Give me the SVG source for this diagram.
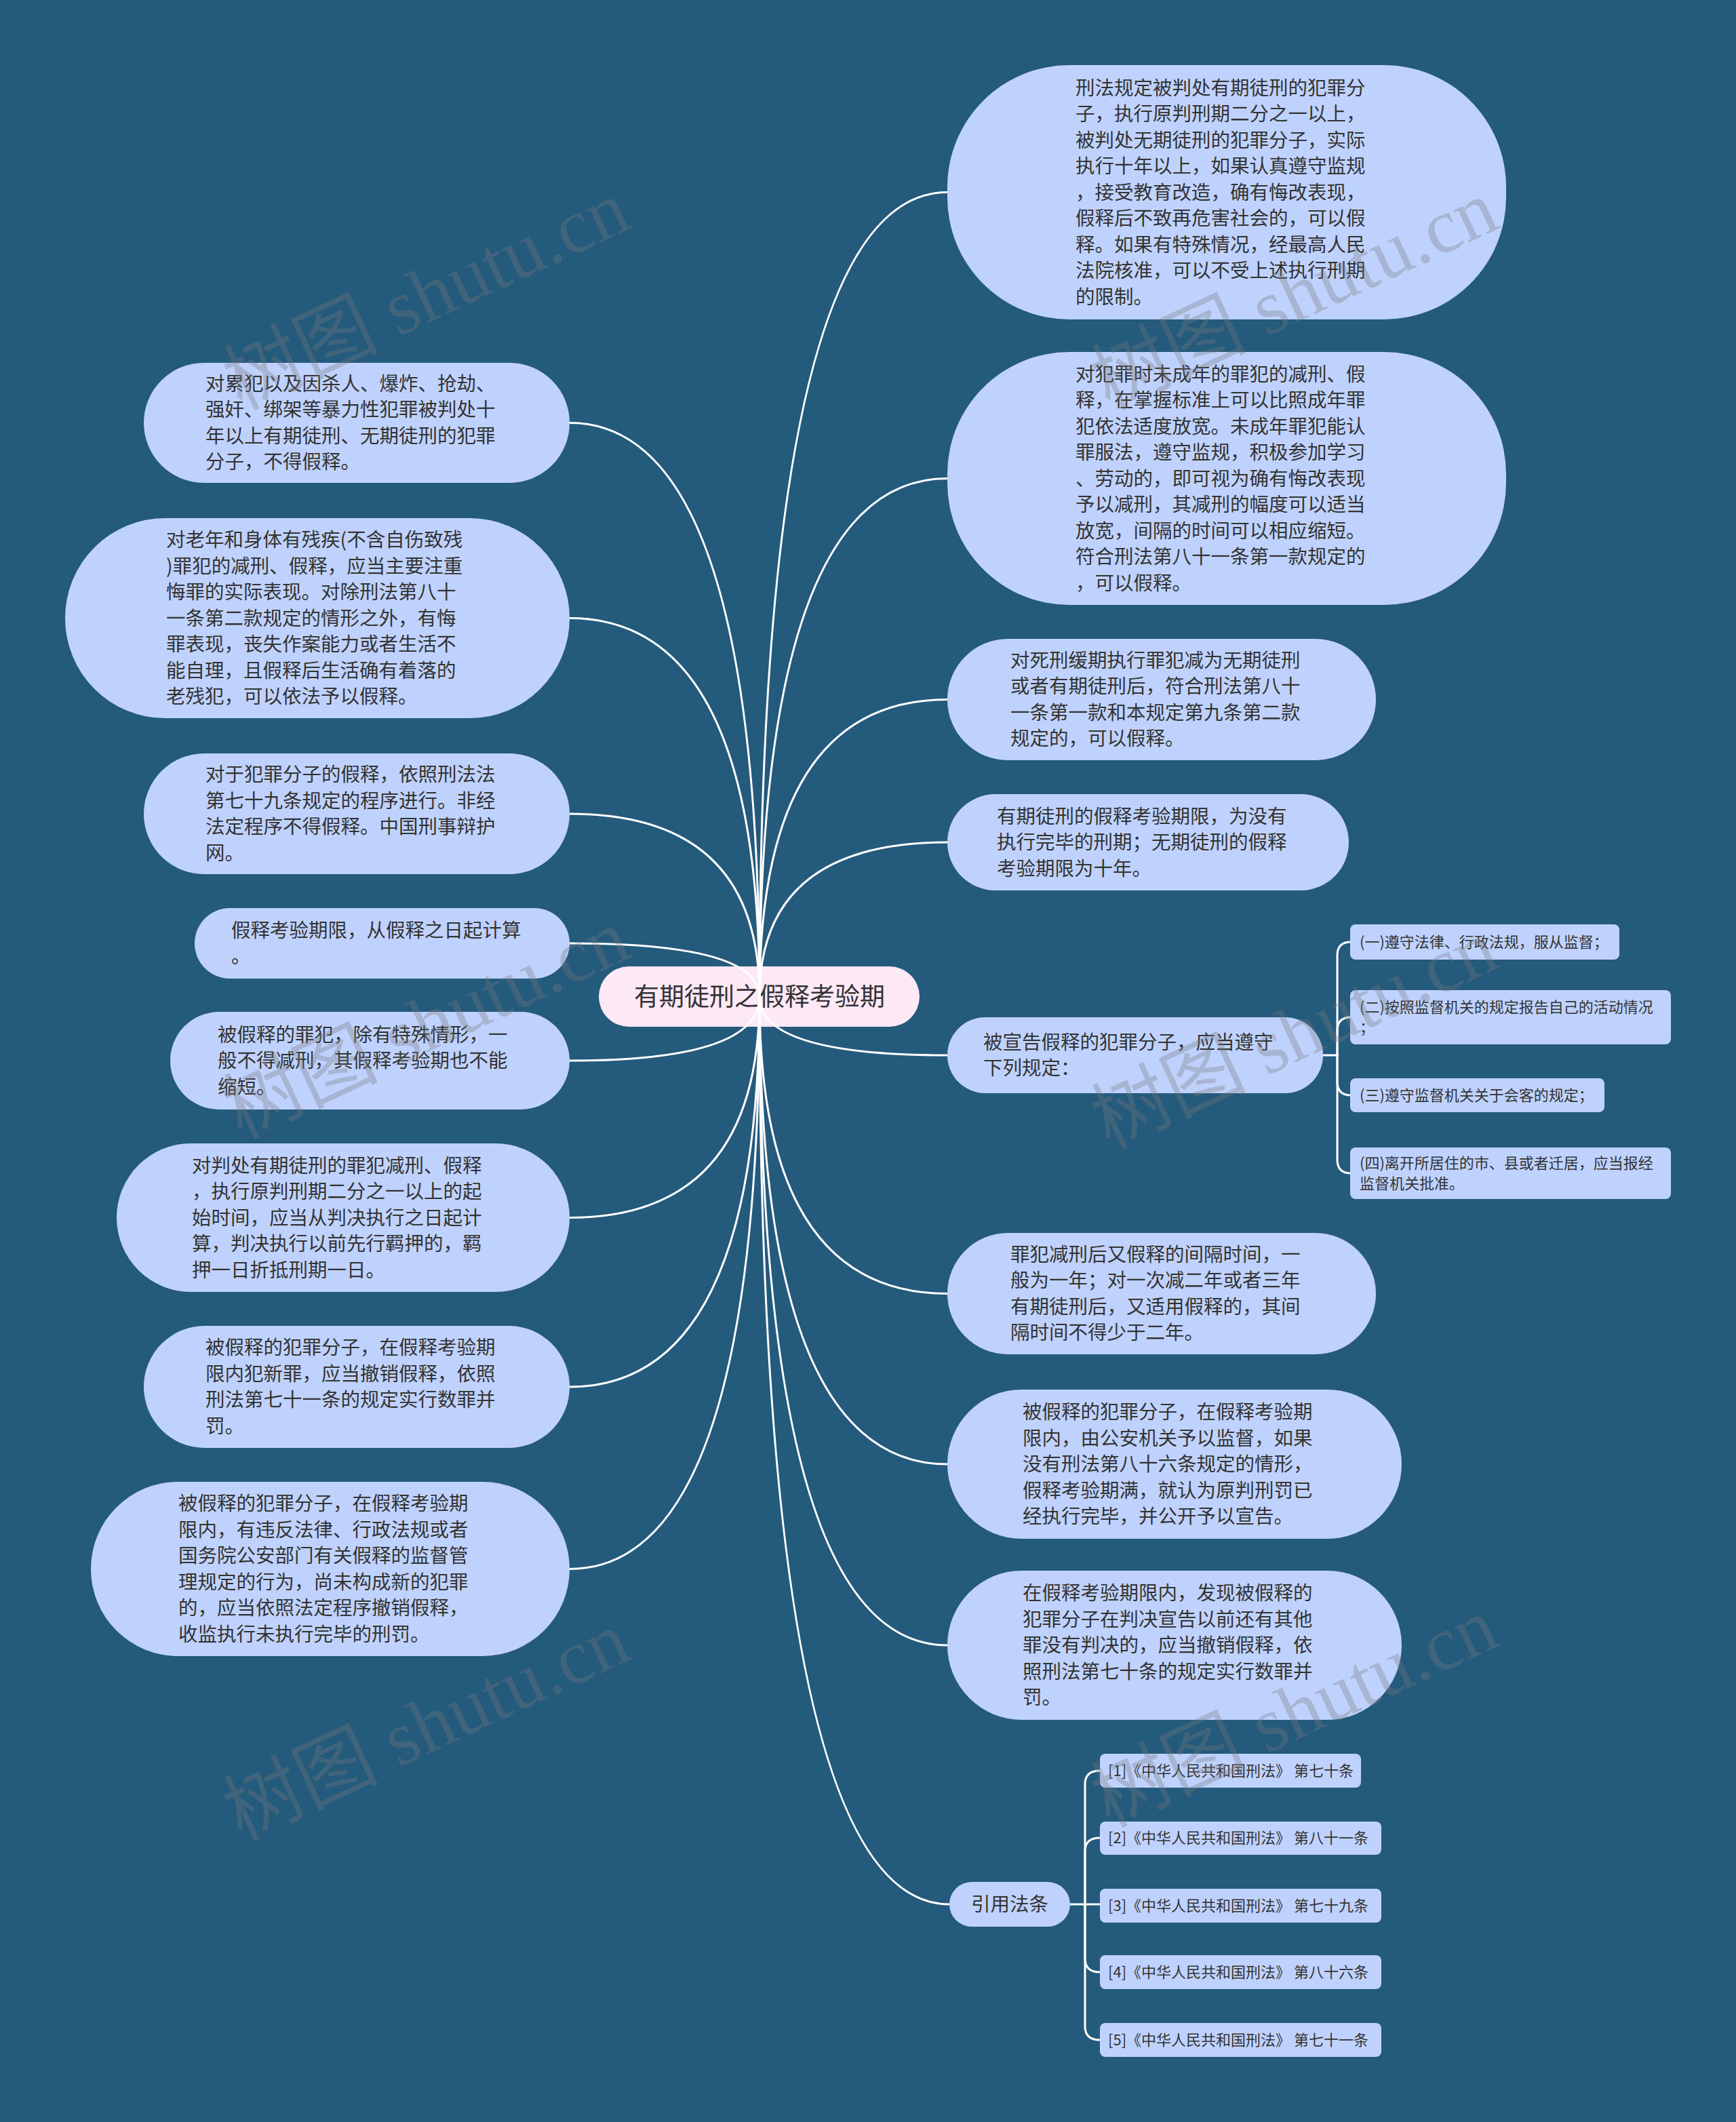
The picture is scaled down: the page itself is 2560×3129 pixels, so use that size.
<svg xmlns="http://www.w3.org/2000/svg" width="2560" height="3129" viewBox="0 0 2560 3129">
<style>
.bg{fill:#245a7c}
.node{fill:#bfd2fd}
.root{fill:#fde8f6}
.t{font-family:"Noto Sans CJK SC","Noto Sans",sans-serif;font-size:28.5px;fill:#333}
.ts{font-family:"Noto Sans CJK SC","Noto Sans",sans-serif;font-size:22px;fill:#333}
.tr{font-family:"Noto Sans CJK SC","Noto Sans",sans-serif;font-size:37px;fill:#333}
.c{fill:none;stroke:#ffffff;stroke-width:3;stroke-linecap:round}
.wm{font-family:"Liberation Serif","Noto Sans CJK SC",serif;font-size:114px;fill:#7a7a7a;fill-opacity:0.32}
</style>
<rect class="bg" x="0" y="0" width="2560" height="3129"/>
<g id="root">
<rect class="root" x="883" y="1425" width="473" height="89" rx="44.5"/>
<text class="tr" x="1120" y="1483" text-anchor="middle">有期徒刑之假释考验期</text>
</g>
<g id="connectors">
<path class="c" d="M1120 1470 Q1120 283.5 1397 283.5"/>
<path class="c" d="M1120 1470 Q1120 705.5 1397 705.5"/>
<path class="c" d="M1120 1470 Q1120 1031.5 1397 1031.5"/>
<path class="c" d="M1120 1470 Q1120 1242 1397 1242"/>
<path class="c" d="M1120 1470 Q1120 1556 1397 1556"/>
<path class="c" d="M1120 1470 Q1120 1907.5 1397 1907.5"/>
<path class="c" d="M1120 1470 Q1120 2159 1397 2159"/>
<path class="c" d="M1120 1470 Q1120 2426 1397 2426"/>
<path class="c" d="M1120 1470 Q1120 2808 1400 2808"/>
<path class="c" d="M1120 1470 Q1120 623.5 840 623.5"/>
<path class="c" d="M1120 1470 Q1120 911.5 840 911.5"/>
<path class="c" d="M1120 1470 Q1120 1200 840 1200"/>
<path class="c" d="M1120 1470 Q1120 1391 840 1391"/>
<path class="c" d="M1120 1470 Q1120 1564 840 1564"/>
<path class="c" d="M1120 1470 Q1120 1795.5 840 1795.5"/>
<path class="c" d="M1120 1470 Q1120 2045 840 2045"/>
<path class="c" d="M1120 1470 Q1120 2313.5 840 2313.5"/>
<path class="c" d="M1951 1556 L1972 1556"/>
<path class="c" d="M1972 1556 L1972 1409 Q1972 1389 1992 1389"/>
<path class="c" d="M1972 1556 L1972 1520 Q1972 1500 1992 1500"/>
<path class="c" d="M1972 1556 L1972 1595 Q1972 1615 1992 1615"/>
<path class="c" d="M1972 1556 L1972 1710 Q1972 1730 1992 1730"/>
<path class="c" d="M1578 2808 L1600 2808"/>
<path class="c" d="M1600 2808 L1600 2631 Q1600 2611 1622 2611"/>
<path class="c" d="M1600 2808 L1600 2730 Q1600 2710 1622 2710"/>
<path class="c" d="M1600 2808 L1622 2808"/>
<path class="c" d="M1600 2808 L1600 2888 Q1600 2908 1622 2908"/>
<path class="c" d="M1600 2808 L1600 2988 Q1600 3008 1622 3008"/>
</g>
<g id="r1">
<rect class="node" x="1397" y="96" width="824" height="375" rx="180"/>
<text class="t"><tspan x="1586" y="139.5">刑法规定被判处有期徒刑的犯罪分</tspan><tspan x="1586" dy="38.5">子，执行原判刑期二分之一以上，</tspan><tspan x="1586" dy="38.5">被判处无期徒刑的犯罪分子，实际</tspan><tspan x="1586" dy="38.5">执行十年以上，如果认真遵守监规</tspan><tspan x="1586" dy="38.5">，接受教育改造，确有悔改表现，</tspan><tspan x="1586" dy="38.5">假释后不致再危害社会的，可以假</tspan><tspan x="1586" dy="38.5">释。如果有特殊情况，经最高人民</tspan><tspan x="1586" dy="38.5">法院核准，可以不受上述执行刑期</tspan><tspan x="1586" dy="38.5">的限制。</tspan></text>
</g>
<g id="r2">
<rect class="node" x="1397" y="519" width="824" height="373" rx="180"/>
<text class="t"><tspan x="1586" y="561.5">对犯罪时未成年的罪犯的减刑、假</tspan><tspan x="1586" dy="38.5">释，在掌握标准上可以比照成年罪</tspan><tspan x="1586" dy="38.5">犯依法适度放宽。未成年罪犯能认</tspan><tspan x="1586" dy="38.5">罪服法，遵守监规，积极参加学习</tspan><tspan x="1586" dy="38.5">、劳动的，即可视为确有悔改表现</tspan><tspan x="1586" dy="38.5">予以减刑，其减刑的幅度可以适当</tspan><tspan x="1586" dy="38.5">放宽，间隔的时间可以相应缩短。</tspan><tspan x="1586" dy="38.5">符合刑法第八十一条第一款规定的</tspan><tspan x="1586" dy="38.5">，可以假释。</tspan></text>
</g>
<g id="r3">
<rect class="node" x="1397" y="942" width="632" height="179" rx="89.5"/>
<text class="t"><tspan x="1490" y="983.75">对死刑缓期执行罪犯减为无期徒刑</tspan><tspan x="1490" dy="38.5">或者有期徒刑后，符合刑法第八十</tspan><tspan x="1490" dy="38.5">一条第一款和本规定第九条第二款</tspan><tspan x="1490" dy="38.5">规定的，可以假释。</tspan></text>
</g>
<g id="r4">
<rect class="node" x="1397" y="1171" width="592" height="142" rx="71"/>
<text class="t"><tspan x="1470" y="1213.5">有期徒刑的假释考验期限，为没有</tspan><tspan x="1470" dy="38.5">执行完毕的刑期；无期徒刑的假释</tspan><tspan x="1470" dy="38.5">考验期限为十年。</tspan></text>
</g>
<g id="r5">
<rect class="node" x="1397" y="1500" width="554" height="112" rx="56"/>
<text class="t"><tspan x="1450" y="1546.75">被宣告假释的犯罪分子，应当遵守</tspan><tspan x="1450" dy="38.5">下列规定：</tspan></text>
</g>
<g id="r5c1">
<rect class="node" x="1991" y="1363" width="397" height="52" rx="8"/>
<text class="ts" x="2005" y="1397">(一)遵守法律、行政法规，服从监督；</text>
</g>
<g id="r5c2">
<rect class="node" x="1991" y="1460" width="473" height="80" rx="8"/>
<text class="ts"><tspan x="2005" y="1493">(二)按照监督机关的规定报告自己的活动情况</tspan><tspan x="2005" dy="30">；</tspan></text>
</g>
<g id="r5c3">
<rect class="node" x="1991" y="1590" width="375" height="50" rx="8"/>
<text class="ts" x="2005" y="1623">(三)遵守监督机关关于会客的规定；</text>
</g>
<g id="r5c4">
<rect class="node" x="1991" y="1692" width="473" height="76" rx="8"/>
<text class="ts"><tspan x="2005" y="1723">(四)离开所居住的市、县或者迁居，应当报经</tspan><tspan x="2005" dy="30">监督机关批准。</tspan></text>
</g>
<g id="r6">
<rect class="node" x="1397" y="1818" width="632" height="179" rx="89.5"/>
<text class="t"><tspan x="1490" y="1859.75">罪犯减刑后又假释的间隔时间，一</tspan><tspan x="1490" dy="38.5">般为一年；对一次减二年或者三年</tspan><tspan x="1490" dy="38.5">有期徒刑后，又适用假释的，其间</tspan><tspan x="1490" dy="38.5">隔时间不得少于二年。</tspan></text>
</g>
<g id="r7">
<rect class="node" x="1397" y="2049" width="670" height="220" rx="110"/>
<text class="t"><tspan x="1508" y="2092">被假释的犯罪分子，在假释考验期</tspan><tspan x="1508" dy="38.5">限内，由公安机关予以监督，如果</tspan><tspan x="1508" dy="38.5">没有刑法第八十六条规定的情形，</tspan><tspan x="1508" dy="38.5">假释考验期满，就认为原判刑罚已</tspan><tspan x="1508" dy="38.5">经执行完毕，并公开予以宣告。</tspan></text>
</g>
<g id="r8">
<rect class="node" x="1397" y="2316" width="670" height="220" rx="110"/>
<text class="t"><tspan x="1508" y="2359">在假释考验期限内，发现被假释的</tspan><tspan x="1508" dy="38.5">犯罪分子在判决宣告以前还有其他</tspan><tspan x="1508" dy="38.5">罪没有判决的，应当撤销假释，依</tspan><tspan x="1508" dy="38.5">照刑法第七十条的规定实行数罪并</tspan><tspan x="1508" dy="38.5">罚。</tspan></text>
</g>
<g id="r9">
<rect class="node" x="1400" y="2775" width="178" height="66" rx="33"/>
<text class="t" x="1489" y="2818" text-anchor="middle">引用法条</text>
</g>
<g id="r9c1">
<rect class="node" x="1622" y="2586" width="385" height="50" rx="8"/>
<text class="ts" x="1634" y="2619">[1]《中华人民共和国刑法》 第七十条</text>
</g>
<g id="r9c2">
<rect class="node" x="1622" y="2686" width="415" height="49" rx="8"/>
<text class="ts" x="1634" y="2718">[2]《中华人民共和国刑法》 第八十一条</text>
</g>
<g id="r9c3">
<rect class="node" x="1622" y="2785" width="415" height="50" rx="8"/>
<text class="ts" x="1634" y="2818">[3]《中华人民共和国刑法》 第七十九条</text>
</g>
<g id="r9c4">
<rect class="node" x="1622" y="2883" width="415" height="50" rx="8"/>
<text class="ts" x="1634" y="2916">[4]《中华人民共和国刑法》 第八十六条</text>
</g>
<g id="r9c5">
<rect class="node" x="1622" y="2983" width="415" height="50" rx="8"/>
<text class="ts" x="1634" y="3016">[5]《中华人民共和国刑法》 第七十一条</text>
</g>
<g id="l1">
<rect class="node" x="212" y="535" width="628" height="177" rx="88.5"/>
<text class="t"><tspan x="303" y="575.75">对累犯以及因杀人、爆炸、抢劫、</tspan><tspan x="303" dy="38.5">强奸、绑架等暴力性犯罪被判处十</tspan><tspan x="303" dy="38.5">年以上有期徒刑、无期徒刑的犯罪</tspan><tspan x="303" dy="38.5">分子，不得假释。</tspan></text>
</g>
<g id="l2">
<rect class="node" x="96" y="764" width="744" height="295" rx="147.5"/>
<text class="t"><tspan x="245" y="806">对老年和身体有残疾(不含自伤致残</tspan><tspan x="245" dy="38.5">)罪犯的减刑、假释，应当主要注重</tspan><tspan x="245" dy="38.5">悔罪的实际表现。对除刑法第八十</tspan><tspan x="245" dy="38.5">一条第二款规定的情形之外，有悔</tspan><tspan x="245" dy="38.5">罪表现，丧失作案能力或者生活不</tspan><tspan x="245" dy="38.5">能自理，且假释后生活确有着落的</tspan><tspan x="245" dy="38.5">老残犯，可以依法予以假释。</tspan></text>
</g>
<g id="l3">
<rect class="node" x="212" y="1111" width="628" height="178" rx="89"/>
<text class="t"><tspan x="303" y="1152.25">对于犯罪分子的假释，依照刑法法</tspan><tspan x="303" dy="38.5">第七十九条规定的程序进行。非经</tspan><tspan x="303" dy="38.5">法定程序不得假释。中国刑事辩护</tspan><tspan x="303" dy="38.5">网。</tspan></text>
</g>
<g id="l4">
<rect class="node" x="287" y="1339" width="553" height="104" rx="52"/>
<text class="t"><tspan x="341" y="1381.75">假释考验期限，从假释之日起计算</tspan><tspan x="341" dy="38.5">。</tspan></text>
</g>
<g id="l5">
<rect class="node" x="251" y="1492" width="589" height="144" rx="72"/>
<text class="t"><tspan x="321" y="1535.5">被假释的罪犯，除有特殊情形，一</tspan><tspan x="321" dy="38.5">般不得减刑，其假释考验期也不能</tspan><tspan x="321" dy="38.5">缩短。</tspan></text>
</g>
<g id="l6">
<rect class="node" x="172" y="1686" width="668" height="219" rx="109.5"/>
<text class="t"><tspan x="283" y="1728.5">对判处有期徒刑的罪犯减刑、假释</tspan><tspan x="283" dy="38.5">，执行原判刑期二分之一以上的起</tspan><tspan x="283" dy="38.5">始时间，应当从判决执行之日起计</tspan><tspan x="283" dy="38.5">算，判决执行以前先行羁押的，羁</tspan><tspan x="283" dy="38.5">押一日折抵刑期一日。</tspan></text>
</g>
<g id="l7">
<rect class="node" x="212" y="1955" width="628" height="180" rx="90"/>
<text class="t"><tspan x="303" y="1997.25">被假释的犯罪分子，在假释考验期</tspan><tspan x="303" dy="38.5">限内犯新罪，应当撤销假释，依照</tspan><tspan x="303" dy="38.5">刑法第七十一条的规定实行数罪并</tspan><tspan x="303" dy="38.5">罚。</tspan></text>
</g>
<g id="l8">
<rect class="node" x="134" y="2185" width="706" height="257" rx="128.5"/>
<text class="t"><tspan x="263" y="2227.25">被假释的犯罪分子，在假释考验期</tspan><tspan x="263" dy="38.5">限内，有违反法律、行政法规或者</tspan><tspan x="263" dy="38.5">国务院公安部门有关假释的监督管</tspan><tspan x="263" dy="38.5">理规定的行为，尚未构成新的犯罪</tspan><tspan x="263" dy="38.5">的，应当依照法定程序撤销假释，</tspan><tspan x="263" dy="38.5">收监执行未执行完毕的刑罚。</tspan></text>
</g>
<g id="watermarks">
<text class="wm" x="355" y="605" transform="rotate(-25 355 605)">树图 shutu.cn</text>
<text class="wm" x="1635" y="605" transform="rotate(-25 1635 605)">树图 shutu.cn</text>
<text class="wm" x="355" y="1680" transform="rotate(-25 355 1680)">树图 shutu.cn</text>
<text class="wm" x="1635" y="1695" transform="rotate(-25 1635 1695)">树图 shutu.cn</text>
<text class="wm" x="355" y="2715" transform="rotate(-25 355 2715)">树图 shutu.cn</text>
<text class="wm" x="1635" y="2695" transform="rotate(-25 1635 2695)">树图 shutu.cn</text>
</g>
</svg>
